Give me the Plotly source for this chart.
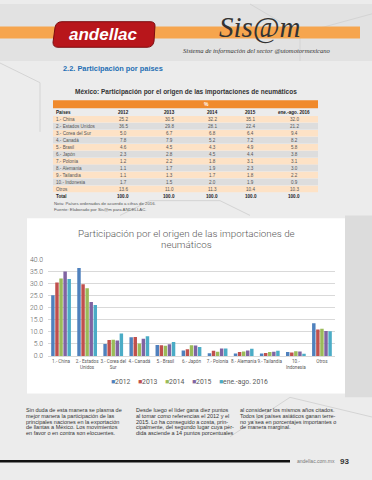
import plotly.graph_objects as go

W, H = 372, 480

# ---------------- data ----------------
categories = ["1.- China", "2.- Estados<br>Unidos", "3.- Corea del<br>Sur", "4.- Canadá", "5.- Brasil",
              "6.- Japón", "7.- Polonia", "8.- Alemania", "9.- Tailandia", "10.-<br>Indonesia", "Otros"]
table_names = ["1.- China", "2.- Estados Unidos", "3.- Corea del Sur", "4.- Canadá", "5.- Brasil",
               "6.- Japón", "7.- Polonia", "8.- Alemania", "9.- Tailandia", "10.- Indonesia", "Otros"]
series_names = ["2012", "2013", "2014", "2015", "ene.-ago. 2016"]
v2012 = [25.2, 36.5, 5.0, 7.8, 4.6, 2.3, 1.2, 1.1, 1.1, 1.7, 13.6]
v2013 = [30.5, 29.8, 6.7, 7.9, 4.5, 2.8, 2.2, 1.7, 1.3, 1.5, 11.0]
v2014 = [32.2, 28.1, 6.8, 5.2, 4.3, 4.5, 1.8, 1.9, 1.7, 2.0, 11.3]
v2015 = [35.1, 22.4, 6.4, 7.2, 4.9, 4.4, 3.1, 2.3, 1.8, 1.9, 10.4]
v2016 = [32.0, 21.2, 9.4, 8.2, 5.8, 3.8, 3.1, 3.0, 2.2, 0.9, 10.3]
totals = [100.0, 100.0, 100.0, 100.0, 100.0]
series_values = [v2012, v2013, v2014, v2015, v2016]
colors = ["#4f81bd", "#c0504d", "#9bbb59", "#8064a2", "#4bacc6"]


def xp(x):
    return x / W


def yp(y):
    return 1 - y / H


fig = go.Figure()
for name, vals, c in zip(series_names, series_values, colors):
    fig.add_trace(go.Bar(x=categories, y=vals, name=name, marker=dict(color=c, line=dict(width=0)),
                         showlegend=False))

shapes = []
ann = []


def A(**kw):
    d = dict(xref="paper", yref="paper", showarrow=False, xanchor="center", yanchor="middle",
             borderpad=0)
    d.update(kw)
    ann.append(d)


# background pieces
shapes.append(dict(type="rect", xref="paper", yref="paper", x0=0, x1=1, y0=yp(58), y1=1,
                   fillcolor="#e2e2e2", line_width=0, layer="below"))
shapes.append(dict(type="rect", xref="paper", yref="paper", x0=xp(345), x1=1, y0=yp(400), y1=yp(215),
                   fillcolor="#dcdcdc", line_width=0, layer="below"))
# faint hexagon lines
for pts in [[(250, 0), (300, 30), (300, 58)], [(300, 30), (372, 10)], [(230, 440), (290, 400), (372, 420)],
            [(120, 215), (150, 200), (220, 200), (250, 215)], [(0, 60), (40, 80), (40, 130)]]:
    path = "M " + " L ".join(f"{xp(a)},{yp(b)}" for a, b in pts)
    shapes.append(dict(type="path", xref="paper", yref="paper", path=path,
                       line=dict(color="#d4d4d4", width=1), layer="below"))

# header: orange stripe and logo
shapes.append(dict(type="rect", xref="paper", yref="paper", x0=0, x1=xp(360), y0=yp(35), y1=yp(23),
                   fillcolor="#f6a54e", line_width=0, layer="below"))
shapes.append(dict(type="path", xref="paper", yref="paper",
                   path=f"M {xp(58)},{yp(44)} L {xp(147)},{yp(44)} Q {xp(153)},{yp(44)} {xp(154)},{yp(38)} "
                        f"L {xp(155)},{yp(22)} Q {xp(155)},{yp(18)} {xp(150)},{yp(18)} L {xp(62)},{yp(18)} "
                        f"Q {xp(56)},{yp(18)} {xp(55)},{yp(24)} L {xp(53)},{yp(39)} Q {xp(53)},{yp(44)} {xp(58)},{yp(44)} Z",
                   fillcolor="#b8161b", line=dict(color="#7d0d10", width=1), layer="below"))
A(x=xp(104), y=yp(31), text="<b><i>andellac</i></b>",
  font=dict(family="Liberation Sans", size=17, color="white"))
A(x=xp(259), y=yp(24), text="<i>Sis@m</i>",
  font=dict(family="Liberation Serif", size=29, color="#333333"))
A(x=xp(257), y=yp(47), text="<i>Sistema de información del sector @utomotormexicano</i>",
  font=dict(family="Liberation Serif", size=6.6, color="#333333"))

A(x=xp(62), y=yp(66), xanchor="left", text="<b>2.2. Participación por países</b>",
  font=dict(family="Liberation Sans", size=7.4, color="#1f6fb4"))
A(x=xp(186), y=yp(89), text="<b>México: Participación por el origen de las importaciones de neumáticos</b>",
  font=dict(family="Liberation Sans", size=6.5, color="#333333"))

# table
shapes.append(dict(type="rect", xref="paper", yref="paper", x0=xp(53), x1=xp(318), y0=yp(106), y1=yp(98),
                   fillcolor="#f08a2c", line_width=0, layer="below"))
A(x=xp(207), y=yp(101.5), text="<b>%</b>", font=dict(family="Liberation Sans", size=5, color="white"))
col_x = [123, 169, 212, 251, 294]
tfont = dict(family="Liberation Sans", size=4.6, color="#555555")
bfont = dict(family="Liberation Sans", size=4.6, color="#222222")
A(x=xp(55), y=yp(110), xanchor="left", text="<b>Países</b>", font=bfont)
for cx, s in zip(col_x, series_names):
    A(x=xp(cx), y=yp(110), text=f"<b>{s}</b>", font=bfont)
row_y0, row_h = 117.2, 7.1
for i, name in enumerate(table_names):
    ry = row_y0 + i * row_h
    fill = "#fde2c6" if i % 2 == 0 else "rgba(205,205,205,0.45)"
    shapes.append(dict(type="rect", xref="paper", yref="paper", x0=xp(53), x1=xp(318),
                       y0=yp(ry + 3.3), y1=yp(ry - 3.3), fillcolor=fill, line_width=0, layer="below"))
    A(x=xp(55), y=yp(ry), xanchor="left", text=name, font=tfont)
    for cx, vals in zip(col_x, series_values):
        A(x=xp(cx), y=yp(ry), text=f"{vals[i]:.1f}", font=tfont)
ty = row_y0 + len(table_names) * row_h
A(x=xp(55), y=yp(ty), xanchor="left", text="<b>Total</b>", font=bfont)
for cx, t in zip(col_x, totals):
    A(x=xp(cx), y=yp(ty), text=f"<b>{t:.1f}</b>", font=bfont)
nfont = dict(family="Liberation Sans", size=4.3, color="#555555")
A(x=xp(53), y=yp(203), xanchor="left", text="Nota: Países ordenados de acuerdo a cifras de 2016.", font=nfont)
A(x=xp(53), y=yp(209), xanchor="left", text="Fuente: Elaborado por Sis@m para ANDELLAC.", font=nfont)

# chart panel
shapes.append(dict(type="rect", xref="paper", yref="paper", x0=xp(27), x1=xp(345), y0=yp(396), y1=yp(218),
                   fillcolor="white", line_width=0, layer="below"))
cfont = "Roboto"
A(x=xp(186), y=yp(233.5), text="Participación por el origen de las importaciones de",
  font=dict(family=cfont, size=9.8, color="#595959", weight=300))
A(x=xp(186), y=yp(245), text="neumáticos", font=dict(family=cfont, size=9.8, color="#595959", weight=300))

# custom legend
leg_x = [110, 137, 164, 191, 218]
for lx, s, c in zip(leg_x, series_names, colors):
    A(x=xp(lx), y=yp(384.5), xanchor="left", text=f"<span style='color:{c}'>■</span>{s}",
      font=dict(family=cfont, size=6.8, color="#595959"))

# body text
col_lines = [
    ["Sin duda de esta manera se plasma de", "mejor manera la participación de las",
     "principales naciones en la exportación", "de llantas a México. Los movimientos",
     "en favor o en contra son elocuentes."],
    ["Desde luego el líder gana diez puntos", "al tomar como referencias el 2012 y el",
     "2015. Lo ha conseguido a costa, prin-", "cipalmente, del segundo lugar cuya pér-",
     "dida asciende a 14 puntos porcentuales"],
    ["al considerar los mismos años citados.", "Todos los países asiáticos ganan terre-",
     "no ya sea en porcentajes importantes o", "de manera marginal."],
]
col_x0 = [25, 135, 239]
for cx, lines in zip(col_x0, col_lines):
    for j, line in enumerate(lines):
        A(x=xp(cx), y=yp(413 + j * 5.8), xanchor="left", text=line,
          font=dict(family="Liberation Sans", size=5.5, color="#333333"))

# footer
shapes.append(dict(type="line", xref="paper", yref="paper", x0=0, x1=xp(290), y0=yp(465), y1=yp(465),
                   line=dict(color="#111111", width=2.5)))
A(x=xp(336), y=yp(465), xanchor="right", text="andellac.com.mx",
  font=dict(family="Liberation Sans", size=5, color="#777777"))
A(x=xp(339), y=yp(465), xanchor="left", text="<b>93</b>",
  font=dict(family="Liberation Sans", size=8, color="#333333"))

fig.update_layout(
    width=W, height=H, margin=dict(l=0, r=0, t=0, b=0),
    paper_bgcolor="#ececec", plot_bgcolor="white",
    barmode="group", bargap=0.22, bargroupgap=0.15,
    shapes=shapes, annotations=ann, showlegend=False,
    xaxis=dict(domain=[xp(48), xp(335)], tickfont=dict(family=cfont, size=4.6, color="#595959"),
               showline=True, linecolor="#d9d9d9", linewidth=1, ticks="", tickangle=0, fixedrange=True),
    yaxis=dict(domain=[yp(358), yp(260)], range=[0, 40], dtick=5, tickformat=".1f",
               gridcolor="#d9d9d9", gridwidth=1, zeroline=False,
               tickfont=dict(family=cfont, size=6.8, color="#595959", weight=300), ticklabelstandoff=4),
)

fig.write_html("out.html", config={"displayModeBar": False},
               post_script="document.body.style.margin='0';document.body.style.overflow='hidden';")
